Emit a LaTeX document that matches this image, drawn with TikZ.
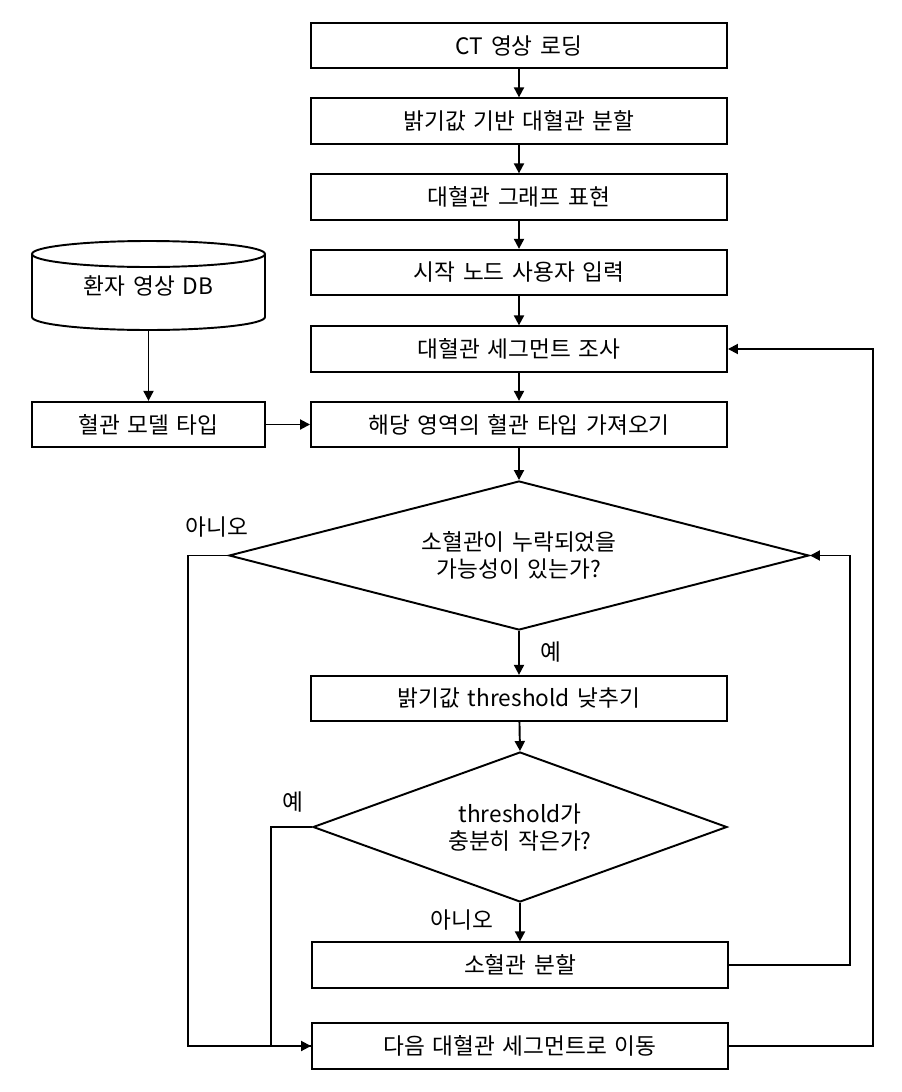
\documentclass[tikz,border=0pt]{standalone}
\usepackage{fontspec}
\setmainfont{Noto Sans CJK KR}[WordSpace=1.5]
\usetikzlibrary{arrows.meta,shapes.geometric}
\begin{document}
\begin{tikzpicture}[x=0.75pt,y=-0.75pt,
  font=\fontsize{17pt}{20.25pt}\selectfont,
  line width=1.45pt,
  box/.style={draw,rectangle,minimum width=312pt,minimum height=34pt,inner sep=0pt},
  dia/.style={draw,diamond,inner sep=0pt,align=center},
  arr/.style={-{Triangle[length=7.5pt,width=7.5pt]}},
  lbl/.style={inner sep=0pt}]
\useasboundingbox[fill=white] (0,0) rectangle (901,1092);
% main column
\node[box] (b1) at (519,45.5) {CT 영상 로딩};
\node[box] (b2) at (519,121) {밝기값 기반 대혈관 분할};
\node[box] (b3) at (519,197) {대혈관 그래프 표현};
\node[box] (b4) at (519,272.5) {시작 노드 사용자 입력};
\node[box] (b5) at (519,349) {대혈관 세그먼트 조사};
\node[box] (b6) at (519,424.5) {해당 영역의 혈관 타입 가져오기};
\node[dia,aspect=3.89,minimum width=435pt,minimum height=111.75pt] (d1) at (519,555.5) {소혈관이 누락되었을\\가능성이 있는가?};
\node[box] (b7) at (519,698.5) {밝기값 threshold 낮추기};
\node[dia,aspect=2.76,minimum width=310.5pt,minimum height=112.5pt] (d2) at (520,827) {threshold가\\충분히 작은가?};
\node[box] (b8) at (520,965) {소혈관 분할};
\node[box] (b9) at (520,1046) {다음 대혈관 세그먼트로 이동};
% left side
\node[minimum width=174.75pt,minimum height=66.75pt,inner sep=0pt] (db) at (148.5,285.5) {환자 영상 DB};
\draw (32,254) -- (32,317) arc[start angle=180,end angle=0,x radius=116.5,y radius=13] -- (265,254);
\draw (148.5,254) ellipse[x radius=116.5,y radius=13];
\node[draw,rectangle,minimum width=174.75pt,minimum height=34pt,inner sep=0pt] (m) at (148.5,424.5) {혈관 모델 타입};
% connectors
\draw[arr] (b1) -- (b2);
\draw[arr] (b2) -- (b3);
\draw[arr] (b3) -- (b4);
\draw[arr] (b4) -- (b5);
\draw[arr] (b5) -- (b6);
\draw[arr] (b6) -- (d1);
\draw[arr] (d1) -- (b7);
\draw[arr] (b7) -- (d2.north);
\draw[arr] (d2.south) -- (b8.north -| d2.south);
\draw[arr] (db) -- (m);
\draw[arr] (m) -- (b6);
\draw[arr] (b8.east) -- ++(121,0) |- (d1.east);
\draw[arr] (b9.east) -- ++(144,0) |- (b5.east);
\draw[arr] (d1.west) -- ++(-40,0) |- (b9.west);
\draw (d2.west) -- ++(-41,0) |- (b9.west);
% labels
\node[lbl] (l1) at (217,527) {아니오};
\node[lbl] (l2) at (551,652) {예};
\node[lbl] (l3) at (293,802) {예};
\node[lbl] (l4) at (462,920) {아니오};
\end{tikzpicture}
\end{document}
